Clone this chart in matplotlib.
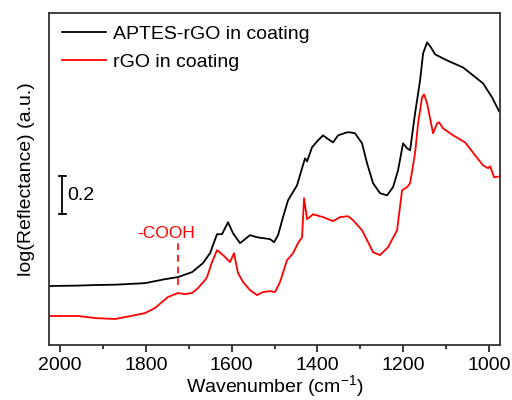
import matplotlib
matplotlib.use("Agg")
import matplotlib.pyplot as plt
from matplotlib.ticker import MultipleLocator

plt.rcParams['font.family'] = ['Liberation Sans', 'DejaVu Sans']

# スペクトルデータ
wn_aptes = [2025.6, 1960.0, 1918.4, 1870.0, 1801.9, 1755.2, 1724.9, 1692.3, 1666.7, 1650.3,
            1634.0, 1622.4, 1608.4, 1596.7, 1580.4, 1557.1, 1540.8, 1510.5, 1501.1, 1491.8,
            1480.2, 1468.5, 1447.5, 1435.9, 1428.9, 1424.2, 1412.6, 1398.6, 1386.9, 1377.6,
            1363.6, 1352.0, 1331.0, 1324.0, 1312.4, 1296.0, 1284.4, 1270.4, 1254.1, 1237.8,
            1223.8, 1212.1, 1200.5, 1191.1, 1184.1, 1172.5, 1160.8, 1153.8, 1144.5, 1135.2,
            1125.9, 1097.9, 1060.6, 1037.3, 1014.0, 993.0, 976.7]
refl_aptes = [0.311, 0.313, 0.316, 0.318, 0.326, 0.347, 0.358, 0.384, 0.432, 0.484,
              0.584, 0.584, 0.647, 0.589, 0.537, 0.579, 0.568, 0.558, 0.542, 0.579,
              0.674, 0.763, 0.842, 0.932, 0.984, 0.968, 1.042, 1.079, 1.105, 1.089,
              1.068, 1.105, 1.121, 1.121, 1.116, 1.063, 0.958, 0.853, 0.800, 0.789,
              0.832, 0.921, 1.063, 1.037, 1.026, 1.221, 1.395, 1.537, 1.595, 1.568,
              1.532, 1.500, 1.463, 1.421, 1.379, 1.305, 1.232]

wn_rgo = [2025.6, 1958.0, 1918.4, 1871.8, 1848.5, 1801.9, 1778.6, 1748.3, 1724.9, 1708.6,
          1692.3, 1678.3, 1662.0, 1657.3, 1645.7, 1634.0, 1620.0, 1603.7, 1594.4, 1585.1,
          1573.4, 1557.1, 1540.8, 1526.8, 1510.5, 1498.8, 1487.2, 1470.9, 1456.9, 1445.2,
          1435.9, 1431.2, 1424.2, 1410.2, 1386.9, 1363.6, 1347.3, 1328.7, 1317.0, 1296.0,
          1284.4, 1270.4, 1254.1, 1235.4, 1214.4, 1202.8, 1191.1, 1184.1, 1172.5, 1165.5,
          1156.2, 1151.5, 1144.5, 1135.2, 1130.5, 1121.2, 1116.5, 1107.2, 1083.9, 1055.9,
          1032.6, 1014.0, 1002.3, 997.7, 988.3, 974.4]
refl_rgo = [0.153, 0.153, 0.142, 0.137, 0.147, 0.168, 0.195, 0.253, 0.274, 0.268,
            0.274, 0.300, 0.342, 0.358, 0.437, 0.500, 0.474, 0.437, 0.484, 0.379,
            0.332, 0.289, 0.263, 0.279, 0.284, 0.279, 0.332, 0.447, 0.484, 0.537,
            0.568, 0.774, 0.663, 0.689, 0.674, 0.653, 0.674, 0.679, 0.658, 0.605,
            0.553, 0.489, 0.474, 0.516, 0.605, 0.816, 0.832, 0.853, 1.011, 1.168,
            1.305, 1.321, 1.274, 1.168, 1.116, 1.168, 1.174, 1.142, 1.105, 1.068,
            1.000, 0.947, 0.932, 0.942, 0.884, 0.889]

labels = ["APTES-rGO in coating", "rGO in coating"]
cooh_wn = 1725

fig = plt.figure(figsize=(5.12, 4.0), dpi=100)
ax = fig.add_axes([0.0957, 0.1375, 0.881, 0.83])

ax.plot(wn_aptes, refl_aptes, color="black", lw=1.3, label=labels[0])
ax.plot(wn_rgo, refl_rgo, color="red", lw=1.3, label=labels[1])

# -COOH の注記
ax.plot([cooh_wn, cooh_wn], [0.316, 0.537], color="red", lw=1.2, ls=(0, (4, 3)))
ax.text(1752, 0.589, "-COOH", color="red", fontsize=12.5, ha="center", va="center")

# スケールバー 0.2
ax.plot([1995, 1995], [0.689, 0.889], color="black", lw=1.3)
ax.plot([1987, 2003], [0.689, 0.689], color="black", lw=1.3)
ax.plot([1987, 2003], [0.889, 0.889], color="black", lw=1.3)
ax.text(1982, 0.79, "0.2", fontsize=14, ha="left", va="center")

ax.set_xlim(2025.6, 974.4)
ax.set_ylim(0, 1.75)
ax.xaxis.set_major_locator(MultipleLocator(200))
ax.xaxis.set_minor_locator(MultipleLocator(100))
ax.tick_params(axis="x", which="major", direction="out", length=5, width=1.1, labelsize=14)
ax.tick_params(axis="x", which="minor", direction="out", length=3, width=1.1)
ax.set_yticks([])
for s in ax.spines.values():
    s.set_linewidth(1.3)
    s.set_color("#333333")

ax.set_xlabel("Wavenumber (cm$^{\\mathregular{-1}}$)", fontsize=14, labelpad=0)
ax.set_ylabel("log(Reflectance) (a.u.)", fontsize=14, labelpad=10)

ax.legend(loc="upper left", frameon=False, fontsize=14, handlelength=2.3,
          handletextpad=0.35, labelspacing=0.5, borderaxespad=0.25,
          bbox_to_anchor=(0.0, 1.0))

plt.savefig("out.png", dpi=100)
plt.close()
